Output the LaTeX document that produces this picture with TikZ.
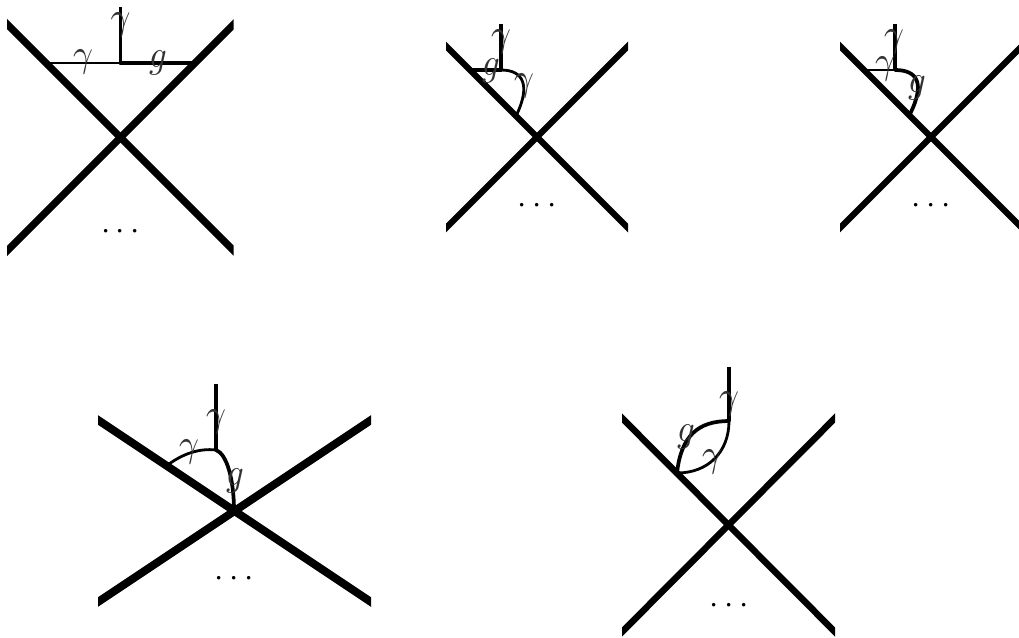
\documentclass[tikz,border=0pt]{standalone}
\begin{document}
\begin{tikzpicture}[x=0.75pt,y=-0.75pt,
  lab/.style={inner sep=0pt,outer sep=0pt,xscale=2.6,yscale=2.9,text=black!80},
  dotsl/.style={inner sep=0pt,outer sep=0pt,scale=2.5},
  photon/.style={line width=1.7pt,line cap=round},
  gluon/.style={line width=2.8pt,line cap=round},
  stem/.style={line width=2.3pt}]
\useasboundingbox (0,0) rectangle (1019,637);
% diagram 1
\coordinate (a1) at (120.5,137.5);
\coordinate (a2) at (120.5,7);
\coordinate (a3) at (120.5,63);
\coordinate (a4) at (49,63);
\coordinate (a5) at (194,63);
\begin{scope}
\clip (7,0) rectangle (233.5,270);
\draw[line width=5.5pt] (-2,15) -- (245,262);
\draw[line width=5.5pt] (245,13) -- (-2,260);
\end{scope}
\draw[stem] (a2) -- (a3);
\draw[photon] (a3) -- (a4);
\draw[gluon] (a3) -- (a5);
\node[lab] (l1) at (120.5,25) {$\gamma$};
\node[lab] (l2) at (83,62) {$\gamma$};
\node[lab] (l3) at (158,63) {$g$};
\node[dotsl] (d1) at (120.5,232) {$\cdots$};
% diagram 2
\coordinate (b1) at (537,137);
\coordinate (b2) at (501,24);
\coordinate (b3) at (501,70);
\coordinate (b4) at (471,70);
\coordinate (b5) at (517,114);
\begin{scope}
\clip (446,0) rectangle (628,260);
\draw[line width=4.7pt] (436,36) -- (638,238);
\draw[line width=4.7pt] (638,36) -- (436,238);
\end{scope}
\draw[stem] (b2) -- (b3);
\draw[gluon] (b4) -- (b3);
\draw[photon,line width=2.1pt] (b3) .. controls (524,70) and (530,86) .. (b5);
\node[lab] (l4) at (501,42) {$\gamma$};
\node[lab] (l5) at (491,71) {$g$};
\node[lab] (l6) at (524,86) {$\gamma$};
\node[dotsl] (d2) at (537,206) {$\cdots$};
% diagram 3
\coordinate (c1) at (931,137);
\coordinate (c2) at (895,24);
\coordinate (c3) at (895,70);
\coordinate (c4) at (867,70);
\coordinate (c5) at (910,114);
\begin{scope}
\clip (840,0) rectangle (1019,260);
\draw[line width=4.7pt] (830,36) -- (1032,238);
\draw[line width=4.7pt] (1032,36) -- (830,238);
\end{scope}
\draw[stem] (c2) -- (c3);
\draw[photon] (c4) -- (c3);
\draw[gluon] (c3) .. controls (918,70) and (925,84) .. (c5);
\node[lab] (l7) at (894,42) {$\gamma$};
\node[lab] (l8) at (885,69) {$\gamma$};
\node[lab] (l9) at (917,88) {$g$};
\node[dotsl] (d3) at (931,206) {$\cdots$};
% diagram 4
\coordinate (e1) at (234,511);
\coordinate (e2) at (216,384);
\coordinate (e3) at (216,450);
\coordinate (e4) at (169,464);
\begin{scope}
\clip (98,390) rectangle (371,630);
\draw[line width=6pt] (83,410) -- (386,612);
\draw[line width=6pt] (386,410) -- (83,612);
\end{scope}
\draw[stem] (e2) -- (e3);
\draw[photon,line width=2.1pt] (e4) .. controls (183,454) and (199,448) .. (e3);
\draw[gluon] (e3) .. controls (227,454) and (234,480) .. (e1);
\node[lab] (l10) at (216,422) {$\gamma$};
\node[lab] (l11) at (189,452) {$\gamma$};
\node[lab] (l12) at (235,481) {$g$};
\node[dotsl] (d4) at (234,579) {$\cdots$};
% diagram 5
\coordinate (f1) at (729,525);
\coordinate (f2) at (729,367);
\coordinate (f3) at (729,421);
\coordinate (f4) at (677,473);
\begin{scope}
\clip (622,390) rectangle (835,637);
\draw[line width=4.9pt] (612,408) -- (845,642);
\draw[line width=4.9pt] (845,408) -- (612,642);
\end{scope}
\draw[stem] (f2) -- (f3);
\draw[gluon] (f4) .. controls (681,436) and (698,421) .. (f3);
\draw[photon,line width=2.1pt] (f4) .. controls (708,473) and (729,452) .. (f3);
\node[lab] (l13) at (729,404) {$\gamma$};
\node[lab] (l14) at (686,437) {$g$};
\node[lab] (l15) at (712,462) {$\gamma$};
\node[dotsl] (d5) at (729,606) {$\cdots$};
\end{tikzpicture}
\end{document}
